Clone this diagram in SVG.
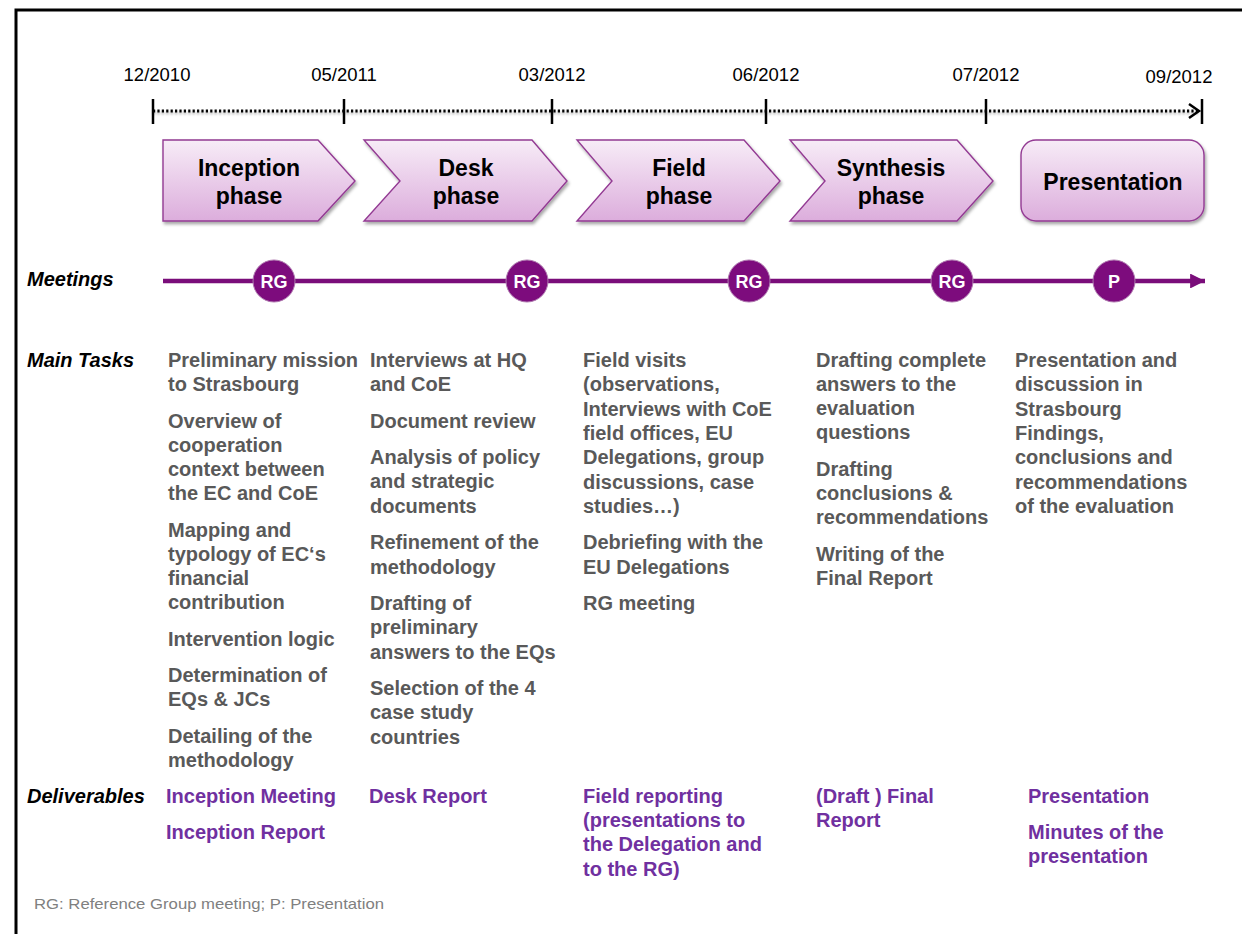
<svg xmlns="http://www.w3.org/2000/svg" width="1242" height="934" viewBox="0 0 1242 934">
<style>
.date{font-family:"Liberation Sans",Arial,sans-serif;font-size:18.5px;fill:#000;text-anchor:middle}
.ph{font-family:"Liberation Sans",Arial,sans-serif;font-size:23px;font-weight:bold;fill:#000;text-anchor:middle}
.lab{font-family:"Liberation Sans",Arial,sans-serif;font-size:20px;font-weight:bold;font-style:italic;fill:#000}
.task{font-family:"Liberation Sans",Arial,sans-serif;font-size:20px;font-weight:bold;fill:#595959}
.del{font-family:"Liberation Sans",Arial,sans-serif;font-size:20px;font-weight:bold;fill:#7030a0}
.mt{font-family:"Liberation Sans",Arial,sans-serif;font-size:18px;font-weight:bold;fill:#fff;text-anchor:middle}
.foot{font-family:"Liberation Sans",Arial,sans-serif;font-size:15px;fill:#808080}
.shape{fill:url(#pg);stroke:#933a93;stroke-width:1.4;filter:url(#sh)}
.mc{fill:#7d0c7d;stroke:#b07ab0;stroke-width:1}
.tick{stroke:#000;stroke-width:2.5}
</style>
<defs>
<linearGradient id="pg" x1="0" y1="0" x2="0" y2="1">
<stop offset="0" stop-color="#f7ecf7"/>
<stop offset="1" stop-color="#dcaddc"/>
</linearGradient>
<filter id="sh" x="-10%" y="-10%" width="120%" height="130%">
<feDropShadow dx="1.5" dy="2.5" stdDeviation="1.5" flood-color="#000" flood-opacity="0.35"/>
</filter>
<filter id="lsh" filterUnits="userSpaceOnUse" x="140" y="95" width="1080" height="30">
<feDropShadow dx="0" dy="2" stdDeviation="1" flood-color="#000" flood-opacity="0.3"/>
</filter>
<marker id="ah" viewBox="0 0 10 10" refX="10" refY="5" markerWidth="3.6" markerHeight="3.3" orient="auto" markerUnits="strokeWidth">
<path d="M0,0 L10,5 L0,10 Z" fill="#7a0d7a"/>
</marker>
</defs>
<rect width="1242" height="934" fill="#fff"/>
<path d="M16,934 L16,10 L1242,10" fill="none" stroke="#000" stroke-width="3"/>

<g id="timeline">
<line x1="153" y1="111" x2="1198" y2="111" stroke="#000" stroke-width="3" stroke-dasharray="2.2 2.2" filter="url(#lsh)"/>
<path d="M1189,104 L1199,111 L1189,118" fill="none" stroke="#000" stroke-width="2.5"/>
<line class="tick" x1="153" y1="99" x2="153" y2="124"/>
<line class="tick" x1="344" y1="99" x2="344" y2="124"/>
<line class="tick" x1="552" y1="99" x2="552" y2="124"/>
<line class="tick" x1="766" y1="99" x2="766" y2="124"/>
<line class="tick" x1="986" y1="99" x2="986" y2="124"/>
<line class="tick" x1="1202" y1="99" x2="1202" y2="124"/>
<text class="date" x="157" y="81">12/2010</text>
<text class="date" x="344" y="81">05/2011</text>
<text class="date" x="552" y="81">03/2012</text>
<text class="date" x="766" y="81">06/2012</text>
<text class="date" x="986" y="81">07/2012</text>
<text class="date" x="1179" y="83">09/2012</text>
</g>

<g id="inception">
<path class="shape" d="M163,140 L318,140 L355,181 L318,221 L163,221 Z"/>
<text class="ph" x="249" y="176">Inception</text>
<text class="ph" x="249" y="204">phase</text>
</g>
<g id="desk">
<path class="shape" d="M364,140 L532,140 L567,181 L532,221 L364,221 L400,181 Z"/>
<text class="ph" x="466" y="176">Desk</text>
<text class="ph" x="466" y="204">phase</text>
</g>
<g id="field">
<path class="shape" d="M577,140 L744,140 L780,181 L744,221 L577,221 L612,181 Z"/>
<text class="ph" x="679" y="176">Field</text>
<text class="ph" x="679" y="204">phase</text>
</g>
<g id="synthesis">
<path class="shape" d="M790,140 L957,140 L993,181 L957,221 L790,221 L825,181 Z"/>
<text class="ph" x="891" y="176">Synthesis</text>
<text class="ph" x="891" y="204">phase</text>
</g>
<g id="presentation">
<rect class="shape" x="1021" y="140" width="183" height="81" rx="15"/>
<text class="ph" x="1113" y="190">Presentation</text>
</g>

<g id="connectors">
<line x1="163" y1="281" x2="1205" y2="281" stroke="#7a0d7a" stroke-width="4.5" marker-end="url(#ah)"/>
</g>

<g id="meetings">
<text class="lab" x="27" y="286">Meetings</text>
<g id="m1"><circle class="mc" cx="274" cy="281" r="21"/><text class="mt" x="274" y="288">RG</text></g>
<g id="m2"><circle class="mc" cx="527" cy="281" r="21"/><text class="mt" x="527" y="288">RG</text></g>
<g id="m3"><circle class="mc" cx="749" cy="281" r="21"/><text class="mt" x="749" y="288">RG</text></g>
<g id="m4"><circle class="mc" cx="952" cy="281" r="21"/><text class="mt" x="952" y="288">RG</text></g>
<g id="m5"><circle class="mc" cx="1114" cy="281" r="21"/><text class="mt" x="1114" y="288">P</text></g>
</g>

<g id="tasks">
<text class="lab" x="27" y="367">Main Tasks</text>
<g id="tasks-inception">
<text class="task" x="168" y="367">Preliminary mission</text>
<text class="task" x="168" y="391">to Strasbourg</text>
<text class="task" x="168" y="428">Overview of</text>
<text class="task" x="168" y="452">cooperation</text>
<text class="task" x="168" y="476">context between</text>
<text class="task" x="168" y="500">the EC and CoE</text>
<text class="task" x="168" y="537">Mapping and</text>
<text class="task" x="168" y="561">typology of EC‘s</text>
<text class="task" x="168" y="585">financial</text>
<text class="task" x="168" y="609">contribution</text>
<text class="task" x="168" y="646">Intervention logic</text>
<text class="task" x="168" y="682">Determination of</text>
<text class="task" x="168" y="706">EQs &amp; JCs</text>
<text class="task" x="168" y="743">Detailing of the</text>
<text class="task" x="168" y="767">methodology</text>
</g>
<g id="tasks-desk">
<text class="task" x="370" y="367">Interviews at HQ</text>
<text class="task" x="370" y="391">and CoE</text>
<text class="task" x="370" y="428">Document review</text>
<text class="task" x="370" y="464">Analysis of policy</text>
<text class="task" x="370" y="488">and strategic</text>
<text class="task" x="370" y="513">documents</text>
<text class="task" x="370" y="549">Refinement of the</text>
<text class="task" x="370" y="574">methodology</text>
<text class="task" x="370" y="610">Drafting of</text>
<text class="task" x="370" y="634">preliminary</text>
<text class="task" x="370" y="659">answers to the EQs</text>
<text class="task" x="370" y="695">Selection of the 4</text>
<text class="task" x="370" y="719">case study</text>
<text class="task" x="370" y="744">countries</text>
</g>
<g id="tasks-field">
<text class="task" x="583" y="367">Field visits</text>
<text class="task" x="583" y="391">(observations,</text>
<text class="task" x="583" y="416">Interviews with CoE</text>
<text class="task" x="583" y="440">field offices, EU</text>
<text class="task" x="583" y="464">Delegations, group</text>
<text class="task" x="583" y="489">discussions, case</text>
<text class="task" x="583" y="513">studies…)</text>
<text class="task" x="583" y="549">Debriefing with the</text>
<text class="task" x="583" y="574">EU Delegations</text>
<text class="task" x="583" y="610">RG meeting</text>
</g>
<g id="tasks-synthesis">
<text class="task" x="816" y="367">Drafting complete</text>
<text class="task" x="816" y="391">answers to the</text>
<text class="task" x="816" y="415">evaluation</text>
<text class="task" x="816" y="439">questions</text>
<text class="task" x="816" y="476">Drafting</text>
<text class="task" x="816" y="500">conclusions &amp;</text>
<text class="task" x="816" y="524">recommendations</text>
<text class="task" x="816" y="561">Writing of the</text>
<text class="task" x="816" y="585">Final Report</text>
</g>
<g id="tasks-presentation">
<text class="task" x="1015" y="367">Presentation and</text>
<text class="task" x="1015" y="391">discussion in</text>
<text class="task" x="1015" y="416">Strasbourg</text>
<text class="task" x="1015" y="440">Findings,</text>
<text class="task" x="1015" y="464">conclusions and</text>
<text class="task" x="1015" y="489">recommendations</text>
<text class="task" x="1015" y="513">of the evaluation</text>
</g>
</g>

<g id="deliverables">
<text class="lab" x="27" y="803">Deliverables</text>
<g id="del-inception">
<text class="del" x="166" y="803">Inception Meeting</text>
<text class="del" x="166" y="839">Inception Report</text>
</g>
<g id="del-desk">
<text class="del" x="369" y="803">Desk Report</text>
</g>
<g id="del-field">
<text class="del" x="583" y="803">Field reporting</text>
<text class="del" x="583" y="827">(presentations to</text>
<text class="del" x="583" y="851">the Delegation and</text>
<text class="del" x="583" y="876">to the RG)</text>
</g>
<g id="del-synthesis">
<text class="del" x="816" y="803">(Draft ) Final</text>
<text class="del" x="816" y="827">Report</text>
</g>
<g id="del-presentation">
<text class="del" x="1028" y="803">Presentation</text>
<text class="del" x="1028" y="839">Minutes of the</text>
<text class="del" x="1028" y="863">presentation</text>
</g>
</g>

<text class="foot" x="34" y="909" textLength="350" lengthAdjust="spacingAndGlyphs">RG: Reference Group meeting; P: Presentation</text>
</svg>
